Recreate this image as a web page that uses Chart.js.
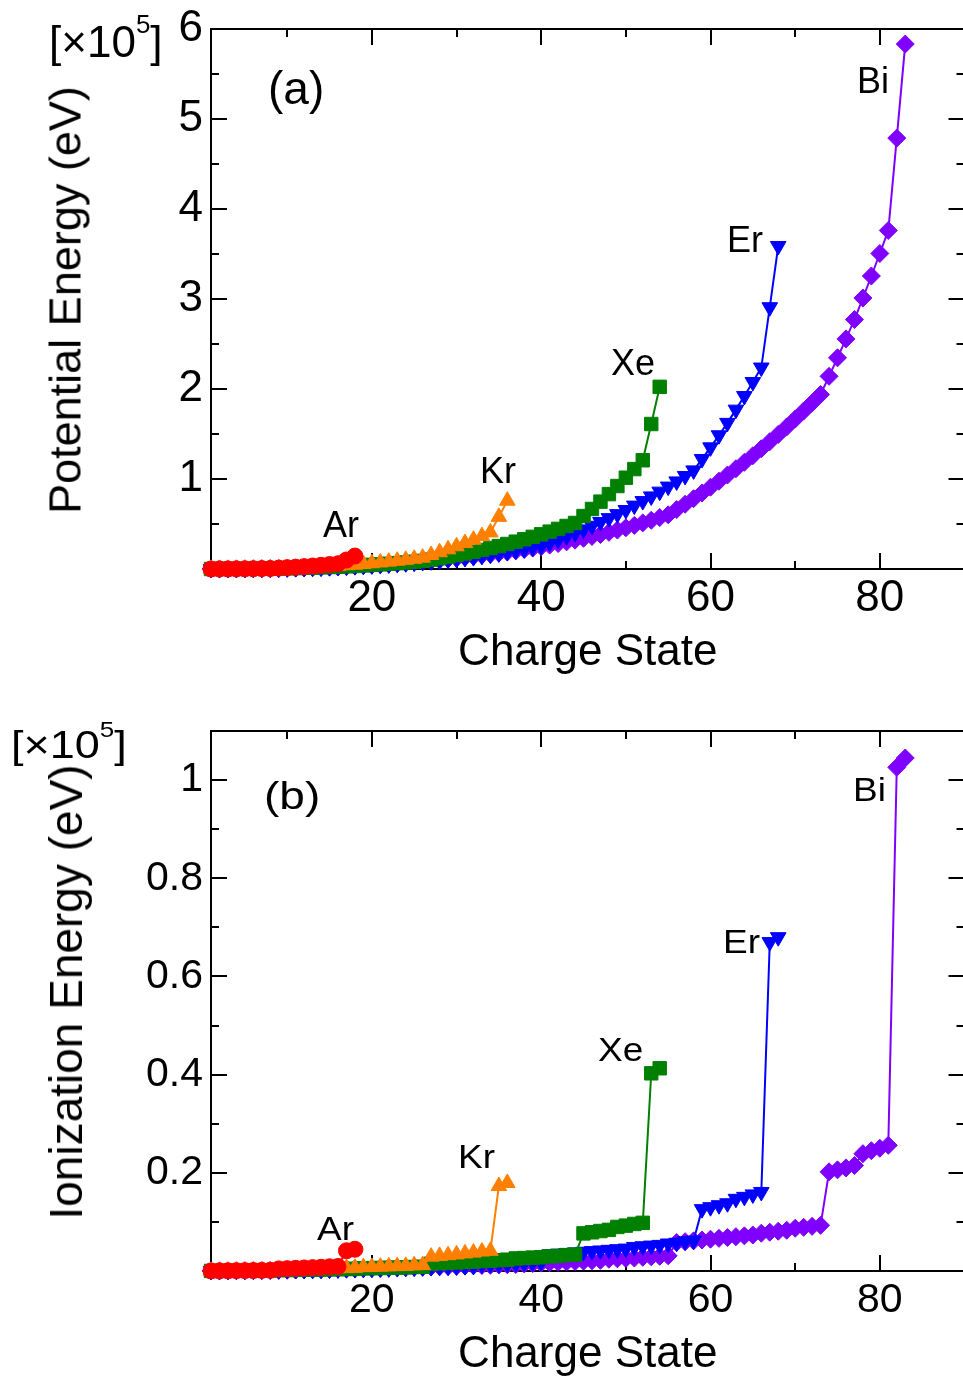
<!DOCTYPE html>
<html>
<head>
<meta charset="utf-8">
<title>Potential and ionization energies</title>
<script src="https://cdn.jsdelivr.net/npm/chart.js@4.4.1/dist/chart.umd.min.js"></script>
<style>
  html, body { margin:0; padding:0; background:#ffffff; }
  body { width:963px; height:1381px; overflow:hidden; position:relative; }
  canvas { position:absolute; left:0; }
  .lbl { position:absolute; font-family:"Liberation Sans", Arial, Helvetica, sans-serif; color:#000; white-space:nowrap; line-height:1; }
</style>
</head>
<body>
<canvas id="panelA" width="975" height="690" style="top:0px;width:975px;height:690px;"></canvas>
<canvas id="panelB" width="975" height="691" style="top:690px;width:975px;height:691px;"></canvas>
<div id="labels"></div>
<script>
// ---------------- data (eV) ----------------
const chargeStates = [1,2,3,4,5,6,7,8,9,10,11,12,13,14,15,16,17,18,19,20,21,22,23,24,25,26,27,28,29,30,
  31,32,33,34,35,36,37,38,39,40,41,42,43,44,45,46,47,48,49,50,51,52,53,54,55,56,57,58,59,60,
  61,62,63,64,65,66,67,68,69,70,71,72,73,74,75,76,77,78,79,80,81,82,83];

const ionizationAr = [15.76, 27.63, 40.74, 59.81, 75.02, 91.01, 124.32, 143.46, 422.45, 478.69,
  538.96, 618.26, 686.10, 755.74, 854.77, 918.03, 4120.89, 4426.23];

const ionizationKr = [14.00, 24.36, 36.95, 52.5, 64.7, 78.5, 111.0, 125.8, 230.85, 268.2,
  308, 350, 391, 447, 492, 541, 592, 641, 786, 833,
  884, 937, 998, 1051, 1151, 1205.3, 2928, 3070, 3227, 3381,
  3584, 3752, 3971, 4109, 17296, 17936];

const ionizationXe = [12.13, 20.98, 31.05, 40.9, 54.14, 66.70, 91.6, 105.98, 179.84, 202.0,
  229.02, 255.0, 281, 314, 343, 374, 404, 434, 549, 582,
  616, 650, 700, 736, 818, 857, 1493, 1571, 1653, 1742,
  1826, 1919, 2023, 2113, 2209, 2300, 2556, 2637, 2726, 2811,
  2975, 3068, 3243, 3333.8, 7660, 7889, 8144, 8382, 8971, 9243,
  9581, 9810.37, 40271.7, 41299.7];

const ionizationEr = [6.11, 11.92, 22.74, 42.42, 65.1, 85, 108, 130, 155, 180,
  205, 232, 260, 288, 300, 330, 360, 390, 420, 450,
  500, 530, 600, 640, 690, 740, 790, 840, 890, 940,
  990, 1040, 1300, 1360, 1420, 1480, 1600, 1660, 1780, 1850,
  3400, 3530, 3660, 3790, 3920, 4050, 4180, 4310, 4440, 4570,
  4900, 5040, 5180, 5320, 5600, 5750, 6050, 6200, 12600, 13000,
  13400, 13800, 14700, 15100, 15600, 16100, 67000, 68000];

const ionizationBi = [7.29, 16.69, 25.56, 45.3, 56.0, 88, 109, 130, 152, 175,
  200, 226, 252, 280, 310, 380, 415, 450, 485, 530,
  570, 640, 680, 700, 745, 790, 835, 880, 925, 970,
  1020, 1070, 1120, 1170, 1220, 1270, 1320, 1450, 1530, 1610,
  1690, 1770, 1850, 1930, 2010, 2090, 2170, 2400, 2480, 2560,
  2640, 2800, 2880, 3000, 3100, 5800, 5970, 6140, 6310, 6480,
  6650, 6820, 6990, 7160, 7330, 7700, 7900, 8100, 8300, 8700,
  8900, 9100, 9300, 20200, 20600, 21000, 21500, 23900, 24500, 25000,
  25600, 102600, 104500];

const elementNames = ['Ar', 'Kr', 'Xe', 'Er', 'Bi'];
const ionizationByElement = { Ar: ionizationAr, Kr: ionizationKr, Xe: ionizationXe, Er: ionizationEr, Bi: ionizationBi };

const xMajorTicks = [20, 40, 60, 80];
const xMinorTicks = [10, 30, 50, 70, 90];
const yMajorTicksA = [1, 2, 3, 4, 5, 6];
const yMinorTicksA = [0.5, 1.5, 2.5, 3.5, 4.5, 5.5];
const yMajorTicksB = [0.2, 0.4, 0.6, 0.8, 1];
const yMinorTicksB = [0.1, 0.3, 0.5, 0.7, 0.9];
const unitScale = 1e5;

// potential energy of a charge state = sum of the ionization energies up to it
function potentialFrom(ionization) { let s = 0; return ionization.map(v => (s += v)); }
const potentialByElement = {};
elementNames.forEach(n => { potentialByElement[n] = potentialFrom(ionizationByElement[n]); });

// ---------------- styles ----------------
const FONT = '"Liberation Sans", Arial, Helvetica, sans-serif';
const seriesStyle = {
  Ar: { color: '#ff0000', pointStyle: 'circle',   radius: 8,   rotation: 0 },
  Kr: { color: '#ff8000', pointStyle: 'triangle', radius: 9,   rotation: 0 },
  Xe: { color: '#008000', pointStyle: 'rect',     radius: 9.5, rotation: 0 },
  Er: { color: '#0000ff', pointStyle: 'triangle', radius: 9,   rotation: 180 },
  Bi: { color: '#8000ff', pointStyle: 'rectRot',  radius: 9,   rotation: 0 }
};

function buildDatasets(valuesByElement) {
  return elementNames.map(name => {
    const st = seriesStyle[name];
    const vals = valuesByElement[name];
    return {
      label: name,
      data: vals.map((v, i) => ({ x: chargeStates[i], y: v / unitScale })),
      borderColor: st.color, backgroundColor: st.color,
      pointBackgroundColor: st.color, pointBorderColor: st.color,
      borderWidth: 2, pointBorderWidth: 1,
      pointStyle: st.pointStyle, pointRadius: st.radius, pointHoverRadius: st.radius,
      pointRotation: st.rotation,
      showLine: true, fill: false, tension: 0, clip: false,
      xAxisID: 'x', yAxisID: 'y'
    };
  });
}

function axis(position, weight, min, max, tickValues, len, showLabels, fontSize, pad, size, title) {
  const horiz = position === 'top' || position === 'bottom';
  return {
    type: 'linear', position, weight, min, max, display: true,
    afterBuildTicks: s => { s.ticks = tickValues.map(v => ({ value: v })); },
    afterFit: s => {
      if (horiz) s.height = size; else s.width = size;
      s.paddingTop = 0; s.paddingBottom = 0; s.paddingLeft = 0; s.paddingRight = 0;
    },
    grid: { display: true, drawOnChartArea: false, drawTicks: true, tickLength: -len,
            color: '#000', lineWidth: 2, tickWidth: 2 },
    border: { display: true, color: '#000', width: 2 },
    ticks: { display: showLabels, autoSkip: false, maxRotation: 0, minRotation: 0, color: '#000',
             font: { family: FONT, size: fontSize }, padding: pad, callback: v => String(v) },
    title: title || { display: false }
  };
}

function makePanel(canvasId, valuesByElement, cfg) {
  const W = 975;
  const scales = {
    x:        axis('bottom', 1, 1, 90, xMajorTicks, 16, true, cfg.tickFont, cfg.xPad, cfg.bottom,
                { display: true, text: 'Charge State', color: '#000',
                  font: { family: FONT, size: 44 }, padding: { top: 0, bottom: cfg.titlePad } }),
    xMinor:   axis('bottom', 0, 1, 90, xMinorTicks, 8, false, 10, 0, 0),
    xTop:     axis('top', 1, 1, 90, xMajorTicks, 16, false, 10, 0, cfg.top),
    xTopMin:  axis('top', 0, 1, 90, xMinorTicks, 8, false, 10, 0, 0),
    y:        axis('left', 1, 0, cfg.yMax, cfg.yMajor, 16, true, cfg.tickFont, 24, 211),
    yMinor:   axis('left', 0, 0, cfg.yMax, cfg.yMinor, 8, false, 10, 0, 0),
    yRight:   axis('right', 1, 0, cfg.yMax, cfg.yMajor, 16, false, 10, 0, W - 967),
    yRightMin:axis('right', 0, 0, cfg.yMax, cfg.yMinor, 8, false, 10, 0, 0)
  };
  return new Chart(document.getElementById(canvasId), {
    type: 'scatter',
    data: { datasets: buildDatasets(valuesByElement) },
    options: {
      responsive: false, animation: false, devicePixelRatio: 1,
      layout: { padding: 0 },
      plugins: { legend: { display: false }, tooltip: { enabled: false } },
      events: [],
      scales
    }
  });
}

makePanel('panelA', potentialByElement, {
  top: 29, bottom: 121, yMax: 6, yMajor: yMajorTicksA, yMinor: yMinorTicksA,
  tickFont: 44, xPad: 19, titlePad: 11
});
makePanel('panelB', ionizationByElement, {
  top: 41, bottom: 110, yMax: 1.1, yMajor: yMajorTicksB, yMinor: yMinorTicksB,
  tickFont: 41, xPad: 21, titlePad: 0
});

// ---------------- text annotations ----------------
const holder = document.getElementById('labels');
function addLabel(html, x, baseline, size, squash) {
  const d = document.createElement('div');
  d.className = 'lbl';
  d.innerHTML = html;
  d.style.fontSize = size + 'px';
  d.style.left = x + 'px';
  d.style.top = (baseline - 0.8465 * size) + 'px';
  if (squash) {
    d.style.transformOrigin = '0 ' + (0.8465 * size) + 'px';
    d.style.transform = 'scaleY(' + squash + ')';
  }
  holder.appendChild(d);
}
function addRotated(text, cx, cy, size) {
  const d = document.createElement('div');
  d.className = 'lbl';
  d.textContent = text;
  d.style.fontSize = size + 'px';
  d.style.left = cx + 'px';
  d.style.top = cy + 'px';
  d.style.transform = 'translate(-50%,-50%) rotate(-90deg)';
  holder.appendChild(d);
}
const mult = '[&times;10<span style="font-size:26px;position:relative;top:-24px;">5</span>]';

// panel (a)
addLabel(mult, 49, 57, 44);
addRotated('Potential Energy (eV)', 64.5, 300, 45);
addLabel('(a)', 268, 104, 46);
addLabel('Ar', 323, 537, 36);
addLabel('Kr', 480, 483, 36);
addLabel('Xe', 611, 375, 36);
addLabel('Er', 727, 252, 36);
addLabel('Bi', 857, 93, 36);

// panel (b)
addLabel(mult, 11, 758, 45, 0.86);
addRotated('Ionization Energy (eV)', 66, 992, 46);
addLabel('(b)', 264, 809, 46, 0.86);
addLabel('Ar', 317, 1240, 37, 0.88);
addLabel('Kr', 458, 1168, 37, 0.88);
addLabel('Xe', 598, 1061, 37, 0.88);
addLabel('Er', 723, 953, 37, 0.88);
addLabel('Bi', 853, 801, 37, 0.88);
</script>
</body>
</html>
